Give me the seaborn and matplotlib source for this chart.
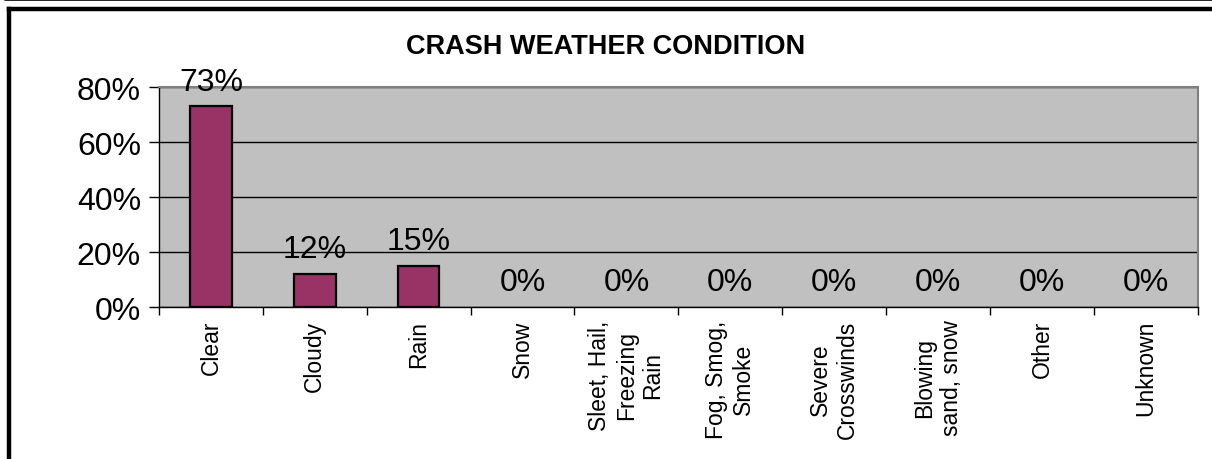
import matplotlib
matplotlib.use("Agg")
import matplotlib.pyplot as plt
from matplotlib.lines import Line2D
import matplotlib.ticker as ticker
import numpy as np
import pandas as pd
import seaborn as sns

# Data
categories = [
    "Clear", "Cloudy", "Rain", "Snow",
    "Sleet, Hail,\nFreezing\nRain", "Fog, Smog,\nSmoke",
    "Severe\nCrosswinds", "Blowing\nsand, snow", "Other", "Unknown",
]
shares = [0.73, 0.12, 0.15, 0, 0, 0, 0, 0, 0, 0]
y_ticks = [0, 0.2, 0.4, 0.6, 0.8]
title = "CRASH WEATHER CONDITION"

BAR = "#993366"
PLOT_BG = "#C0C0C0"

sns.set_style("white")
plt.rcParams["font.family"] = ["Liberation Sans", "DejaVu Sans"]
plt.rcParams["text.color"] = "black"
plt.rcParams["xtick.color"] = "black"
plt.rcParams["ytick.color"] = "black"

df = pd.DataFrame({"condition": categories, "share": shares})

fig = plt.figure(figsize=(12.12, 4.6), dpi=100)
ax = fig.add_axes([0.1312, 0.3304, 0.857, 0.478])
ax.set_facecolor(PLOT_BG)

sns.barplot(data=df, x="condition", y="share", order=categories,
            color=BAR, edgecolor="black", linewidth=1.6, width=0.4,
            saturation=1, ax=ax, zorder=3)
# Excel draws nothing for empty categories
for patch in ax.patches:
    if patch.get_height() == 0:
        patch.set_linewidth(0)

ax.set_ylim(0, 0.8)
ax.set_xlim(-0.5, len(categories) - 0.5)
ax.set_yticks(y_ticks)
ax.yaxis.set_major_formatter(ticker.FuncFormatter(lambda v, _: f"{v:.0%}"))
ax.tick_params(axis="y", direction="out", length=7, width=1, pad=6,
               labelsize=23, left=True)

# category labels centred, tick marks on the category boundaries
ax.set_xticks(np.arange(len(categories)))
ax.set_xticklabels(categories, rotation=90, ha="center", va="top",
                   multialignment="center", fontsize=16.5)
ax.tick_params(axis="x", which="major", length=0, pad=9)
ax.set_xticks(np.arange(len(categories) + 1) - 0.5, minor=True)
ax.tick_params(axis="x", which="minor", direction="out", length=6,
               width=1, bottom=True)

ax.set_xlabel("")
ax.set_ylabel("")

ax.yaxis.grid(True, color="black", linewidth=1)
ax.xaxis.grid(False)
ax.set_axisbelow(True)

for side in ["top", "right"]:
    ax.spines[side].set_color("#808080")
    ax.spines[side].set_linewidth(1.5)
for side in ["left", "bottom"]:
    ax.spines[side].set_color("black")
    ax.spines[side].set_linewidth(1)

# value labels above the bars
for i, v in enumerate(shares):
    ax.annotate(f"{v:.0%}", xy=(i, v), xytext=(0, 7),
                textcoords="offset points", ha="center", va="bottom",
                fontsize=23, annotation_clip=False)

fig.text(0.5, 0.898, title, ha="center", va="center",
         fontsize=19.5, fontweight="bold")

# outer frame lines
fig.add_artist(Line2D([5 / 1212, 1], [1 - 1 / 460, 1 - 1 / 460],
                      color="black", linewidth=1.2, transform=fig.transFigure))
fig.add_artist(Line2D([9 / 1212, 1], [1 - 10 / 460, 1 - 10 / 460],
                      color="black", linewidth=3.2, transform=fig.transFigure,
                      solid_capstyle="projecting"))
fig.add_artist(Line2D([9 / 1212, 9 / 1212], [0, 1 - 10 / 460],
                      color="black", linewidth=3.2, transform=fig.transFigure,
                      solid_capstyle="projecting"))

fig.savefig("out.png", dpi=100)
plt.close(fig)
